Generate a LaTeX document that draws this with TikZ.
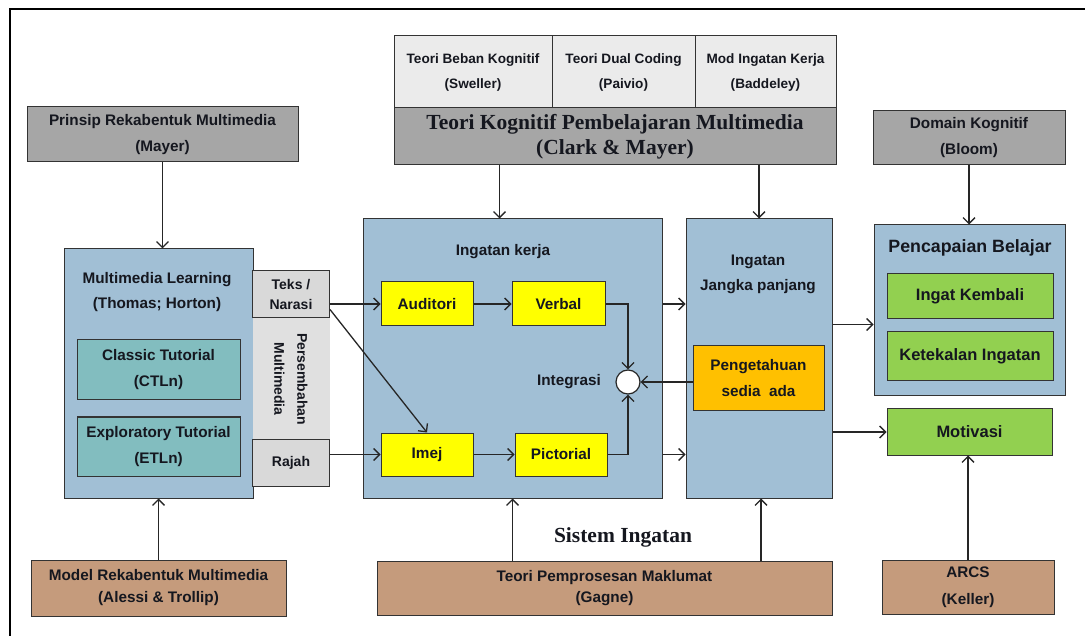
\documentclass[tikz,border=0pt]{standalone}
\usepackage{fontspec}
\setmainfont{Liberation Sans}
\newfontfamily\titlefont{Liberation Serif}
\usetikzlibrary{arrows.meta}

\definecolor{txt}{HTML}{15171F}
\definecolor{darkgrey}{HTML}{A6A6A6}
\definecolor{palegrey}{HTML}{EBEBEB}
\definecolor{mediagrey}{HTML}{D9D9D9}
\definecolor{persgrey}{HTML}{E0E0E0}
\definecolor{memblue}{HTML}{A1BFD5}
\definecolor{tutteal}{HTML}{82BDBF}
\definecolor{theorybrown}{HTML}{C59B7C}
\definecolor{procyellow}{HTML}{FFFF00}
\definecolor{knoworange}{HTML}{FFC000}
\definecolor{goalgreen}{HTML}{92D050}

\newcommand\fsz[2]{\fontsize{#1}{#2}\selectfont}

\begin{document}
\begin{tikzpicture}[x=1pt,y=-1pt,
  every node/.style={inner sep=0pt,align=center,text=txt},
  box/.style={draw=black!80,line width=1pt,font=\bfseries\fsz{15.3}{26}},
  smallbox/.style={box,font=\bfseries\fsz{13.6}{25}},
  label/.style={font=\bfseries\fsz{15.3}{25}},
  serif/.style={font=\titlefont\bfseries\fsz{21.5}{25}},
  arr/.style={draw=black!85,line width=1.3pt,-{Straight Barb[length=6pt,width=12pt]}}]
\useasboundingbox (0,0) rectangle (1085,636);
% outer frame
\draw[line width=2.4pt] (10,640) -- (10,9) -- (1090,9);

% theory boxes on top
\node[smallbox,fill=palegrey,minimum width=158pt,minimum height=72pt] (beban) at (473,72) {Teori Beban Kognitif\\(Sweller)};
\node[smallbox,fill=palegrey,minimum width=143pt,minimum height=72pt] (dual) at (623.5,72) {Teori Dual Coding\\(Paivio)};
\node[smallbox,fill=palegrey,minimum width=141pt,minimum height=72pt] (baddeley) at (765.5,72) {Mod Ingatan Kerja\\(Baddeley)};
\node[box,fill=darkgrey,minimum width=442pt,minimum height=57pt,serif] (clark) at (615,136.5) {Teori Kognitif Pembelajaran Multimedia\\(Clark \& Mayer)};
\node[box,fill=darkgrey,minimum width=271pt,minimum height=55pt] (mayer) at (162.5,134.5) {Prinsip Rekabentuk Multimedia\\(Mayer)};
\node[box,fill=darkgrey,minimum width=192pt,minimum height=54pt] (bloom) at (969,138) {Domain Kognitif\\(Bloom)};

% multimedia learning
\node[box,fill=memblue,minimum width=189pt,minimum height=249pt] (mml) at (158.5,373.5) {};
\node[label] (mmltitle) at (157,292) {Multimedia Learning\\(Thomas; Horton)};
\node[box,fill=tutteal,minimum width=163pt,minimum height=60pt] (ctln) at (158.5,370) {Classic Tutorial\\(CTLn)};
\node[box,fill=tutteal,minimum width=163pt,minimum height=59pt] (etln) at (158.5,446.5) {Exploratory Tutorial\\(ETLn)};
\node[fill=persgrey,rotate=-90,minimum width=121pt,minimum height=77pt,font=\bfseries\fsz{14}{23}] (pers) at (291,379) {Persembahan\\Multimedia};
\node[box,fill=mediagrey,minimum width=77pt,minimum height=47pt,font=\bfseries\fsz{14}{20}] (teks) at (291,294.5) {Teks /\\Narasi};
\node[box,fill=mediagrey,minimum width=77pt,minimum height=47pt,font=\bfseries\fsz{14}{20}] (rajah) at (291,462.5) {Rajah};

% working memory
\node[box,fill=memblue,minimum width=299pt,minimum height=279pt] (kerja) at (512.5,358.5) {};
\node[label] (kerjatitle) at (503,252) {Ingatan kerja};
\node[box,fill=procyellow,minimum width=92pt,minimum height=44pt] (auditori) at (427,304) {Auditori};
\node[box,fill=procyellow,minimum width=93pt,minimum height=44pt] (verbal) at (558.5,304) {Verbal};
\node[box,fill=procyellow,minimum width=92pt,minimum height=43pt] (imej) at (427,454.5) {Imej};
\node[box,fill=procyellow,minimum width=92pt,minimum height=43pt] (pictorial) at (561,454.5) {Pictorial};
\node[draw=black!85,line width=1.2pt,fill=white,circle,minimum size=24pt] (integ) at (628,382) {};
\node[label] (integlabel) at (569,382) {Integrasi};

% long term memory
\node[box,fill=memblue,minimum width=146pt,minimum height=279pt] (jangka) at (759,358.5) {};
\node[label] (jangkatitle) at (758,274.5) {Ingatan\\Jangka panjang};
\node[box,fill=knoworange,minimum width=131pt,minimum height=65pt] (sedia) at (758.5,378.5) {Pengetahuan\\sedia\ \ ada};

% learning outcomes
\node[box,fill=memblue,minimum width=191pt,minimum height=171pt] (capai) at (969.5,310.5) {};
\node[font=\bfseries\fsz{17.8}{22}] (capaititle) at (970,248) {Pencapaian Belajar};
\node[box,fill=goalgreen,minimum width=166pt,minimum height=45pt,font=\bfseries\fsz{16.5}{20}] (ingat) at (970,296.5) {Ingat Kembali};
\node[box,fill=goalgreen,minimum width=166pt,minimum height=49pt,font=\bfseries\fsz{16.5}{20}] (tekal) at (970,356.5) {Ketekalan Ingatan};
\node[box,fill=goalgreen,minimum width=165pt,minimum height=46pt,font=\bfseries\fsz{16.5}{20}] (motivasi) at (969.5,432) {Motivasi};

% theory boxes at the bottom
\node[box,fill=theorybrown,minimum width=255pt,minimum height=56pt,font=\bfseries\fsz{15.3}{22}] (alessi) at (158.5,588) {Model Rekabentuk Multimedia\\(Alessi \& Trollip)};
\node[box,fill=theorybrown,minimum width=455pt,minimum height=54pt,font=\bfseries\fsz{15.3}{21}] (gagne) at (604.5,588) {Teori Pemprosesan Maklumat\\(Gagne)};
\node[box,fill=theorybrown,minimum width=172pt,minimum height=54pt,font=\bfseries\fsz{15.3}{27}] (keller) at (968,587) {ARCS\\(Keller)};
\node[serif] (sistem) at (623,537) {Sistem Ingatan};

% connectors
\coordinate (capaiin) at ([yshift=-14pt]capai.west);
\draw[arr] (mayer.south) -- (mayer.south |- mml.north);
\draw[arr] (alessi.north) -- (alessi.north |- mml.south);
\draw[arr] ([xshift=-13pt]kerja.north |- clark.south) -- ([xshift=-13pt]kerja.north);
\draw[arr] (jangka.north |- clark.south) -- (jangka.north);
\draw[arr] (kerja.south |- gagne.north) -- (kerja.south);
\draw[arr] ([xshift=2pt]jangka.south |- gagne.north) -- ([xshift=2pt]jangka.south);
\draw[arr] (bloom.south) -- (bloom.south |- capai.north);
\draw[arr] (keller.north) -- (keller.north |- motivasi.south);
\draw[arr] (teks.east |- auditori.west) -- (auditori.west);
\draw[arr] ([yshift=-15pt]teks.east) -- (imej.north);
\draw[arr] (rajah.east |- imej.west) -- (imej.west);
\draw[arr] (auditori) -- (verbal);
\draw[arr] (imej) -- (pictorial);
\draw[arr] (verbal.east) -| (integ.north);
\draw[arr] (pictorial.east) -| (integ.south);
\draw[arr] (sedia.west |- integ) -- (integ.east);
\draw[arr] (kerja.east |- verbal) -- (jangka.west |- verbal);
\draw[arr] (kerja.east |- pictorial) -- (jangka.west |- pictorial);
\draw[arr] (jangka.east |- capaiin) -- (capaiin);
\draw[arr] (jangka.east |- motivasi.west) -- (motivasi.west);
\end{tikzpicture}
\end{document}
